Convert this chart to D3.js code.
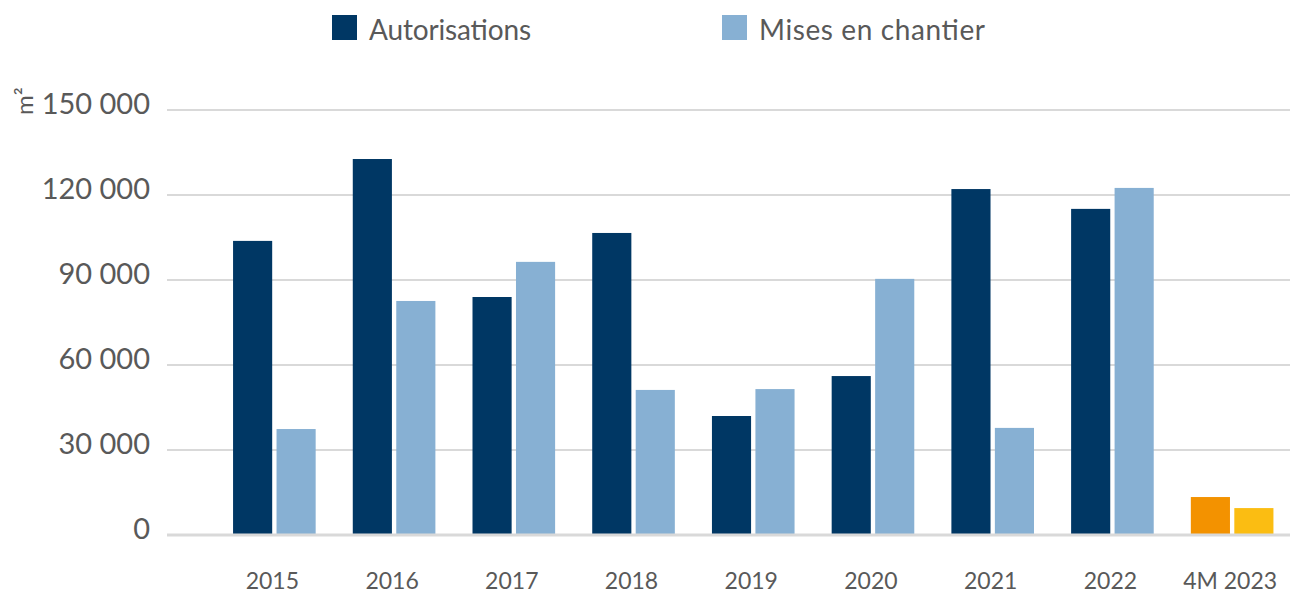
<!DOCTYPE html>
<html>
<head>
<meta charset="utf-8">
<script src="https://cdn.jsdelivr.net/npm/d3@7"></script>
<style>
  body { margin: 0; background: #fff; }
  svg text { font-family: Lato, "Open Sans", sans-serif; fill: #595959; }
</style>
</head>
<body>
<svg id="chart" width="1290" height="593"></svg>
<script>
// data
var categories = ["2015", "2016", "2017", "2018", "2019", "2020", "2021", "2022", "4M 2023"];
var autorisations = [103800, 132700, 84000, 106600, 42000, 56100, 122100, 115100, 13400];
var misesEnChantier = [37400, 82600, 96400, 51200, 51500, 90400, 37800, 122500, 9500];
var yTicks = [0, 30000, 60000, 90000, 120000, 150000];
var seriesNames = ["Autorisations", "Mises en chantier"];

var colors = ["#003764", "#87b0d3"];
var lastColors = ["#f39200", "#fbbd12"]; // partial year shown in orange / yellow

var svg = d3.select("#chart");

var x = d3.scaleBand()
    .domain(categories)
    .range([214.5, 1292])
    .paddingInner(0.31)
    .paddingOuter(0.155);

var xs = d3.scaleBand()
    .domain([0, 1])
    .range([0, x.bandwidth()])
    .paddingInner(0.1);

var y = d3.scaleLinear()
    .domain([0, 150000])
    .range([535, 110]);

var fmt = function (d) { return d3.format(",")(d).replace(/,/g, " "); };

// gridlines
svg.append("g")
  .selectAll("line")
  .data(yTicks.filter(function (d) { return d > 0; }))
  .join("line")
    .attr("x1", 167).attr("x2", 1290)
    .attr("y1", function (d) { return y(d); })
    .attr("y2", function (d) { return y(d); })
    .attr("stroke", "#d9d9d9")
    .attr("stroke-width", 2);

// y labels
svg.append("g")
  .selectAll("text")
  .data(yTicks)
  .join("text")
    .attr("x", 150)
    .attr("y", function (d) { return y(d) + 4; })
    .attr("text-anchor", "end")
    .attr("font-size", 29)
    .text(fmt);

// unit
svg.append("text")
    .attr("transform", "translate(33,115) rotate(-90)")
    .attr("font-size", 24)
    .text("m²");

// bars
var rows = categories.map(function (c, i) {
  return { cat: c, i: i, vals: [autorisations[i], misesEnChantier[i]] };
});

var groups = svg.append("g")
  .selectAll("g")
  .data(rows)
  .join("g")
    .attr("transform", function (d) { return "translate(" + x(d.cat) + ",0)"; });

groups.selectAll("rect")
  .data(function (d) {
    return d.vals.map(function (v, k) {
      return { v: v, k: k, last: d.i === categories.length - 1 };
    });
  })
  .join("rect")
    .attr("x", function (d) { return xs(d.k); })
    .attr("width", xs.bandwidth())
    .attr("y", function (d) { return y(d.v); })
    .attr("height", function (d) { return y(0) - y(d.v); })
    .attr("fill", function (d) { return d.last ? lastColors[d.k] : colors[d.k]; });

// baseline
svg.append("line")
    .attr("x1", 167).attr("x2", 1290)
    .attr("y1", y(0)).attr("y2", y(0))
    .attr("stroke", "#d9d9d9")
    .attr("stroke-width", 3);

// x labels
svg.append("g")
  .selectAll("text")
  .data(categories)
  .join("text")
    .attr("x", function (d) { return x(d) + x.bandwidth() / 2 - 2; })
    .attr("y", 589)
    .attr("text-anchor", "middle")
    .attr("font-size", 23)
    .text(function (d) { return d; });

// legend
var legendX = [332, 722];
var legend = svg.append("g")
  .selectAll("g")
  .data(seriesNames)
  .join("g")
    .attr("transform", function (d, i) { return "translate(" + legendX[i] + ",15)"; });

legend.append("rect")
    .attr("width", 25).attr("height", 25)
    .attr("fill", function (d, i) { return colors[i]; });

legend.append("text")
    .attr("x", 37)
    .attr("y", 25)
    .attr("font-size", 28)
    .attr("textLength", function (d, i) { return i === 0 ? 162 : 226; })
    .text(function (d) { return d; });
</script>
</body>
</html>
